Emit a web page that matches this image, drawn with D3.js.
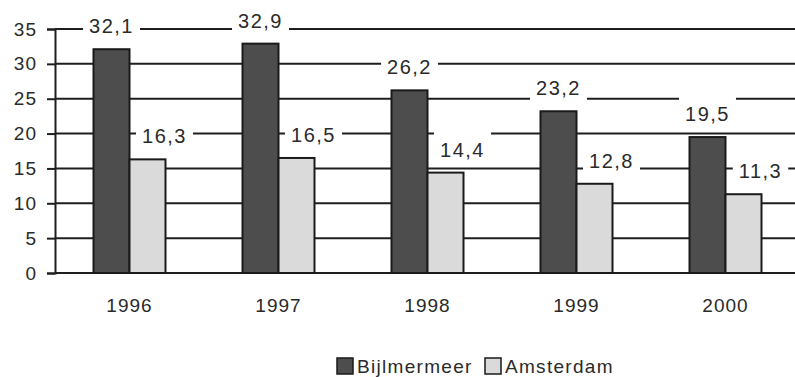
<!DOCTYPE html>
<html lang="nl">
  <head>
    <meta charset="utf-8" />
    <title>Bijlmermeer vs Amsterdam</title>
    <script src="https://d3js.org/d3.v7.min.js"></script>
    <style>
      body { margin: 0; background: #fff; }
      svg text { font-family: "Liberation Sans", Arial, sans-serif; fill: #2a2a2a; letter-spacing: 1px; }
    </style>
  </head>
  <body>
    <svg id="chart" width="795" height="377"></svg>
    <script>
      // data
      const years = ["1996", "1997", "1998", "1999", "2000"];
      const series = ["Bijlmermeer", "Amsterdam"];
      const bijlmermeer = [32.1, 32.9, 26.2, 23.2, 19.5];
      const amsterdam = [16.3, 16.5, 14.4, 12.8, 11.3];
      const yTicks = [0, 5, 10, 15, 20, 25, 30, 35];

      const colors = { Bijlmermeer: "#4d4d4d", Amsterdam: "#dadada" };
      const rows = years.map((y, i) => ({ year: y, Bijlmermeer: bijlmermeer[i], Amsterdam: amsterdam[i] }));

      const svg = d3.select("#chart");
      const mLeft = 55, mRight = 800, mTop = 29, mBottom = 273;
      const fs = 19;

      const x0 = d3.scaleBand().domain(years).range([mLeft, mRight]);
      const barW = 36;
      const x1 = d3.scaleBand().domain(series)
        .range([x0.bandwidth() / 2 - barW, x0.bandwidth() / 2 + barW]);
      const y = d3.scaleLinear().domain([0, 35]).range([mBottom, mTop]);

      const fmt = v => d3.format(".1f")(v).replace(".", ",");

      // gridlines
      svg.append("g").selectAll("line")
        .data(yTicks)
        .join("line")
        .attr("x1", mLeft).attr("x2", 795)
        .attr("y1", d => y(d)).attr("y2", d => y(d))
        .attr("stroke", "#1e1e1e").attr("stroke-width", 2);

      // y axis
      const yAxis = svg.append("g")
        .attr("transform", `translate(${mLeft},0)`)
        .call(d3.axisLeft(y).tickValues(yTicks).tickSize(8).tickPadding(10));
      yAxis.select(".domain").attr("stroke", "#1e1e1e").attr("stroke-width", 2);
      yAxis.selectAll(".tick line").attr("stroke", "#1e1e1e").attr("stroke-width", 2);
      yAxis.selectAll("text").attr("font-size", fs).attr("fill", "#2a2a2a");

      // bars
      const groups = svg.append("g").selectAll("g")
        .data(rows)
        .join("g")
        .attr("transform", d => `translate(${x0(d.year)},0)`);

      groups.selectAll("rect")
        .data(d => series.map(s => ({ key: s, value: d[s] })))
        .join("rect")
        .attr("x", d => x1(d.key))
        .attr("width", x1.bandwidth())
        .attr("y", d => y(d.value))
        .attr("height", d => y(0) - y(d.value))
        .attr("fill", d => colors[d.key])
        .attr("stroke", "#1a1a1a").attr("stroke-width", 2);

      // value labels with white box that cuts the gridlines
      const labels = groups.selectAll("g.lbl")
        .data(d => series.map(s => ({ key: s, value: d[s] })))
        .join("g").attr("class", "lbl")
        .attr("transform", d => {
          const cx = x1(d.key) + x1.bandwidth() / 2 + (d.key === "Amsterdam" ? 17 : 0);
          return `translate(${cx},${y(d.value) - 23})`;
        });
      const box = labels.append("rect").attr("fill", "#fff");
      labels.append("text")
        .attr("text-anchor", "middle").attr("dy", "0.35em")
        .attr("font-size", 20)
        .style("letter-spacing", "1.5px")
        .text(d => fmt(d.value));
      box.each(function () {
        const bb = this.parentNode.querySelector("text").getBBox();
        d3.select(this)
          .attr("x", bb.x - 6).attr("width", bb.width + 12)
          .attr("y", -19).attr("height", 31);
      });

      // x labels
      svg.append("g").selectAll("text")
        .data(years)
        .join("text")
        .attr("x", d => x0(d) + x0.bandwidth() / 2)
        .attr("y", 305).attr("dy", "0.35em")
        .attr("text-anchor", "middle").attr("font-size", fs)
        .text(d => d);

      // legend
      const legend = svg.append("g").attr("transform", "translate(337,366)");
      const lx = { Bijlmermeer: 0, Amsterdam: 148 };
      series.forEach(s => {
        legend.append("rect")
          .attr("x", lx[s]).attr("y", -8).attr("width", 16).attr("height", 16)
          .attr("fill", colors[s]).attr("stroke", "#1a1a1a").attr("stroke-width", 1.5);
        legend.append("text")
          .attr("x", lx[s] + 20).attr("y", 0).attr("dy", "0.35em")
          .attr("font-size", fs)
          .style("letter-spacing", "1.3px")
          .text(s);
      });
    </script>
  </body>
</html>
